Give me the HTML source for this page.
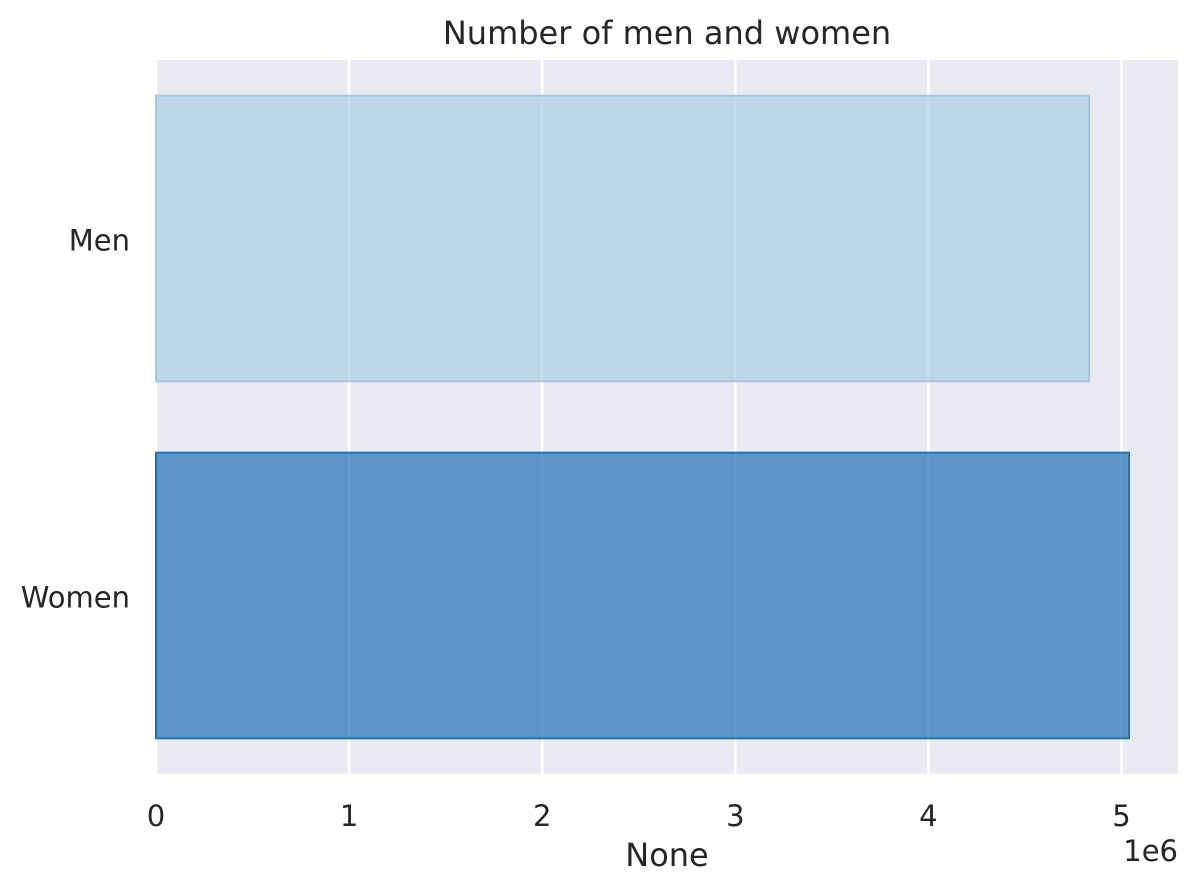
<!DOCTYPE html>
<html><head><meta charset="utf-8"><style>
html,body{margin:0;padding:0;background:#fff;}
svg text{font-family:"DejaVu Sans","Liberation Sans",sans-serif;fill:#262626;}
</style></head><body>
<svg id="chart" width="1198" height="890" viewBox="0 0 1198 890" xmlns="http://www.w3.org/2000/svg">
<text x="667" y="44" font-size="32" text-anchor="middle">Number of men and women</text>
<rect x="157" y="60" width="1021" height="714" fill="#eaeaf2"/>
<g id="grid"></g>
<g id="bars"></g>
<g id="xticks"></g>
<g id="yticks"></g>
<text x="667" y="866" font-size="32" text-anchor="middle">None</text>
<text x="1178" y="861" font-size="29" text-anchor="end">1e6</text>
</svg>
<script>
const categories = ["Men", "Women"];
const values = [4832000, 5039000];
const xTicks = [0, 1, 2, 3, 4, 5];
const xTickLabels = ["0", "1", "2", "3", "4", "5"];
const fills = ["#9ecae1", "#2171b5"];

const NS = "http://www.w3.org/2000/svg";
const x0 = 156, pxPerUnit = 193.1e-6;
function xs(v){ return x0 + v * pxPerUnit; }
const yTop = 60, yBot = 774;
const band = (yBot - yTop) / categories.length;
function yc(i){ return yTop + band * (i + 0.5); }
const barH = band * 0.8;

function mk(tag, attrs, parent){
  const e = document.createElementNS(NS, tag);
  for (const k in attrs) e.setAttribute(k, attrs[k]);
  parent.appendChild(e);
  return e;
}
const grid = document.getElementById("grid");
const xt = document.getElementById("xticks");
xTicks.forEach((t, i) => {
  const x = xs(t * 1e6);
  const l = mk("line", {x1:x, x2:x, y1:yTop, y2:yBot, stroke:"#fff", "stroke-width":2.5}, grid);
  
  
  const tx = mk("text", {x:x, y:826, "font-size":29, "text-anchor":"middle"}, xt);
  tx.textContent = xTickLabels[i];
  
  
});
const bars = document.getElementById("bars");
const yt = document.getElementById("yticks");
categories.forEach((c, i) => {
  const y = yc(i) - barH / 2;
  const r = mk("rect", {x:xs(0), y:y, width:xs(values[i]) - xs(0), height:barH,
    fill:fills[i], "fill-opacity": i === 0 ? 0.6 : 0.7, stroke:fills[i], "stroke-width":2}, bars);
  
  
  const tx = mk("text", {x:130, y:yc(i) + 12, "font-size":29, "text-anchor":"end"}, yt);
  tx.textContent = c;
  
  
});
</script>
</body></html>
